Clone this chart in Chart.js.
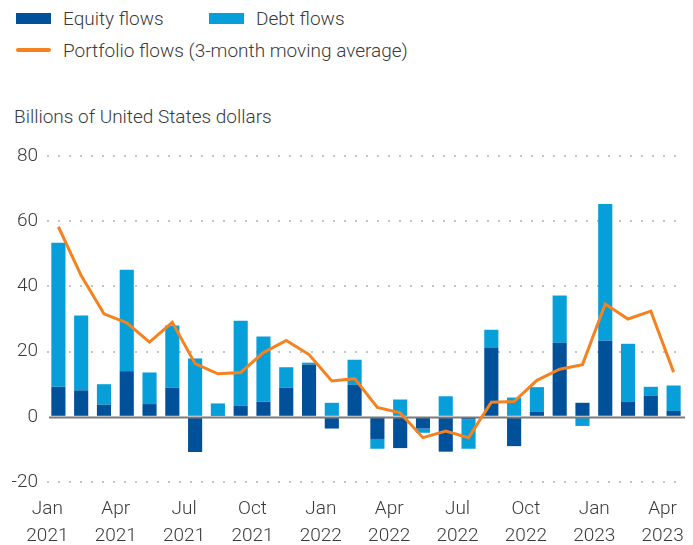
<!DOCTYPE html>
<html>
<head>
<meta charset="utf-8">
<script src="https://cdn.jsdelivr.net/npm/chart.js@4/dist/chart.umd.min.js"></script>
<style>
	html, body { margin: 0; padding: 0; background: #fff; }
	body { width: 693px; height: 545px; position: relative; overflow: hidden; font-family: Roboto, sans-serif; color: #3a3a3a; }
	#wrap { position: absolute; left: 0; top: 0; width: 693px; height: 545px; }
	.lg { position: absolute; font-size: 19px; font-weight: 300; line-height: 20px; white-space: nowrap; }
	.sw { position: absolute; width: 35px; height: 11px; }
	.ln { position: absolute; width: 35px; height: 4px; border-radius: 2px; background: #f5821f; }
</style>
</head>
<body>
<div class="sw" style="left:16px;top:13px;background:#00509a"></div>
<div class="lg" style="left:63px;top:9px">Equity flows</div>
<div class="sw" style="left:209px;top:13px;background:#069fda"></div>
<div class="lg" style="left:256px;top:9px">Debt flows</div>
<div class="ln" style="left:16px;top:48px"></div>
<div class="lg" style="left:63px;top:41px">Portfolio flows (3-month moving average)</div>
<div class="lg" style="left:14px;top:107px">Billions of United States dollars</div>
<div id="wrap"><canvas id="c"></canvas></div>
<script>
const categories = [
	"Jan 2021", "Feb 2021", "Mar 2021", "Apr 2021", "May 2021", "Jun 2021",
	"Jul 2021", "Aug 2021", "Sep 2021", "Oct 2021", "Nov 2021", "Dec 2021",
	"Jan 2022", "Feb 2022", "Mar 2022", "Apr 2022", "May 2022", "Jun 2022",
	"Jul 2022", "Aug 2022", "Sep 2022", "Oct 2022", "Nov 2022", "Dec 2022",
	"Jan 2023", "Feb 2023", "Mar 2023", "Apr 2023"
];
const equityFlows = [
	9.2, 8.1, 3.7, 14.0, 3.9, 8.9, -10.8, 0.5, 3.4, 4.6, 8.9, 16.0,
	-3.6, 9.8, -6.8, -9.6, -3.6, -10.7, -0.8, 21.1, -9.0, 1.5, 22.7, 4.3,
	23.3, 4.7, 6.4, 1.8
];
const debtFlows = [
	44.2, 23.0, 6.3, 31.1, 9.7, 19.1, 17.9, 3.6, 26.1, 20.0, 6.3, 0.6,
	4.3, 7.7, -3.0, 5.3, -1.3, 6.3, -9.0, 5.6, 5.9, 7.6, 14.5, -2.8,
	42.0, 17.7, 2.8, 7.8
];
const portfolioFlows = [
	58.3, 43.3, 31.6, 28.8, 22.9, 29.0, 16.3, 13.2, 13.6, 19.7, 23.4, 19.1,
	11.0, 11.7, 2.9, 1.2, -6.4, -4.4, -6.4, 4.5, 4.7, 11.2, 14.6, 16.0,
	34.6, 30.0, 32.4, 13.7
];
const yTicks = [-20, 0, 20, 40, 60, 80];
const quarterMonths = ["Jan", "Apr", "Jul", "Oct"];

const textColor = "#3a3a3a";
Chart.defaults.font.family = "Roboto, sans-serif";
Chart.defaults.font.size = 19;
Chart.defaults.font.weight = 300;
Chart.defaults.color = textColor;

const zeroLine = {
	id: "zeroLine",
	beforeDatasetDraw(chart, args) {
		if (args.meta.type !== "line") return;
		const { ctx, chartArea, scales: { y } } = chart;
		const py = Math.round(y.getPixelForValue(0)) + 0.5;
		ctx.save();
		ctx.strokeStyle = "#7a7a7a";
		ctx.lineWidth = 2;
		ctx.beginPath();
		ctx.moveTo(chartArea.left + 2, py);
		ctx.lineTo(chartArea.right, py);
		ctx.stroke();
		ctx.restore();
	},
};

new Chart(document.getElementById("c"), {
	type: "bar",
	plugins: [zeroLine],
	data: {
		labels: categories,
		datasets: [
			{
				type: "line",
				label: "Portfolio flows (3-month moving average)",
				data: portfolioFlows,
				borderColor: "#f5821f",
				borderWidth: 3,
				pointRadius: 0,
				tension: 0,
				order: 0,
			},
			{
				label: "Equity flows",
				data: equityFlows,
				backgroundColor: "#00509a",
				stack: "s",
				order: 1,
			},
			{
				label: "Debt flows",
				data: debtFlows,
				backgroundColor: "#069fda",
				stack: "s",
				order: 1,
			},
		],
	},
	options: {
		responsive: true,
		maintainAspectRatio: false,
		animation: false,
		layout: { padding: { top: 156, right: 8, left: 0, bottom: 0 } },
		datasets: { bar: { categoryPercentage: 1, barPercentage: 0.62 } },
		plugins: {
			legend: { display: false },
			tooltip: { enabled: false },
		},
		scales: {
			x: {
				stacked: true,
				grid: { display: false, drawTicks: false },
				border: { display: false },
				ticks: {
					autoSkip: false,
					maxRotation: 0,
					padding: 13,
					labelOffset: -11,
					font: { size: 19, lineHeight: 1.45, weight: 300 },
					callback(value, index) {
						const [m, yr] = categories[index].split(" ");
						return quarterMonths.includes(m) ? [m, yr] : "";
					},
				},
				afterFit(scale) {
					scale.height = 63;
					scale.paddingLeft = 0;
					scale.paddingRight = 0;
				},
			},
			y: {
				stacked: true,
				min: yTicks[0],
				max: yTicks[yTicks.length - 1],
				afterBuildTicks(scale) {
					scale.ticks = yTicks.map(v => ({ value: v }));
				},
				grid: {
					drawTicks: false,
					lineWidth: 2,
					color: c => (c.tick && c.tick.value === 0 ? "rgba(0,0,0,0)" : "#c4c4c4"),
				},
				border: { display: false, dash: [2, 9] },
				ticks: { padding: 9, font: { size: 19, weight: 300 } },
				afterFit(scale) {
					scale.width = 47;
				},
			},
		},
	},
});
</script>
</body>
</html>
